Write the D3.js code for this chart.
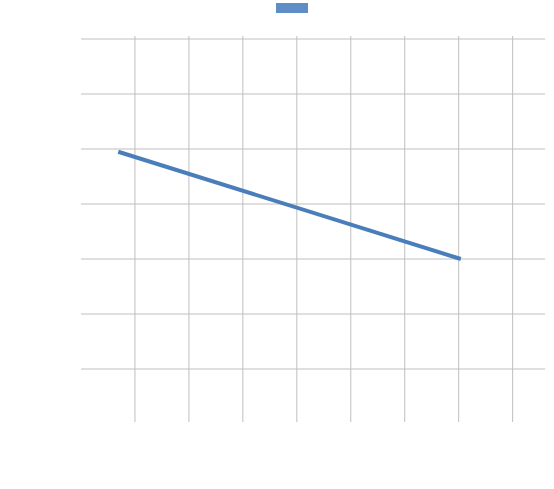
<!DOCTYPE html>
<html><head><meta charset="utf-8">
<script src="https://cdn.jsdelivr.net/npm/d3@7"></script>
<style>body{margin:0;background:#fff}</style>
</head><body>
<svg id="chart" width="554" height="489"></svg>
<script>
const xGrid = [1, 2, 3, 4, 5, 6, 7, 8];
const yGrid = [1, 2, 3, 4, 5, 6, 7];
const seriesX = [0.69, 7.04];
const seriesY = [4.95, 3.0];

const svg = d3.select('#chart');
const x = d3.scaleLinear().domain([0, 8.6]).range([81, 545]);
const y = d3.scaleLinear().domain([0, 7]).range([424, 39]);

svg.selectAll('.hgrid').data(yGrid).enter().append('line')
    .attr('x1', 81).attr('x2', 545)
    .attr('y1', d => y(d)).attr('y2', d => y(d))
    .attr('stroke', '#bfbfbf').attr('stroke-width', 1);

svg.selectAll('.vgrid').data(xGrid).enter().append('line')
    .attr('x1', d => x(d)).attr('x2', d => x(d))
    .attr('y1', 36).attr('y2', 422)
    .attr('stroke', '#bfbfbf').attr('stroke-width', 1);

svg.append('path')
    .datum(seriesX.map((v, i) => [v, seriesY[i]]))
    .attr('d', d3.line().x(d => x(d[0])).y(d => y(d[1])))
    .attr('fill', 'none').attr('stroke', '#4a7ebb').attr('stroke-width', 4);

svg.append('rect').attr('x', 276).attr('y', 3).attr('width', 32).attr('height', 10)
    .attr('fill', '#5f8ec6');
</script>
</body></html>
